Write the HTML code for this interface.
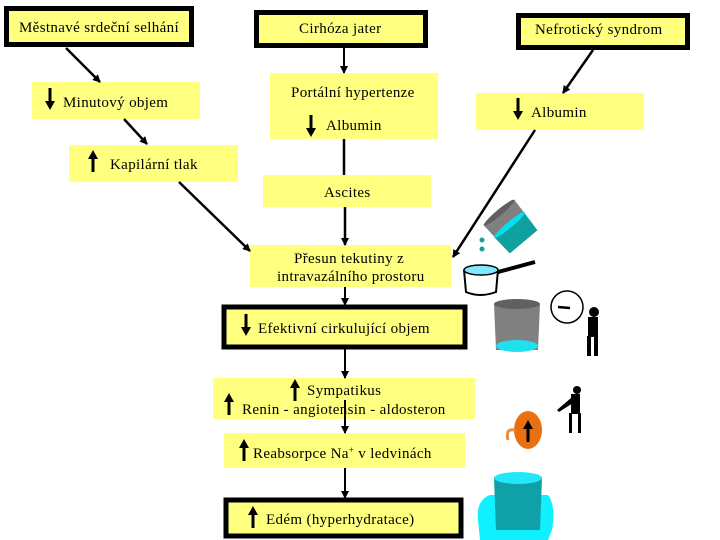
<!DOCTYPE html>
<html><head><meta charset="utf-8"><style>
html,body{margin:0;padding:0;background:#fff}
svg{display:block}
text{font-family:"Liberation Serif",serif;font-size:15px;letter-spacing:0.35px;fill:#000}
</style></head><body>
<svg width="720" height="540" viewBox="0 0 720 540" xmlns="http://www.w3.org/2000/svg">
<defs>
<marker id="ah" markerWidth="8" markerHeight="8" refX="7" refY="4" orient="auto" markerUnits="userSpaceOnUse"><path d="M0,0 L8,4 L0,8 z" fill="#000"/></marker>
<g id="up"><rect x="-1.5" y="4" width="3" height="16" fill="#000"/><path d="M-5,7 L0,-2 L5,7 z" fill="#000"/></g>
<g id="dn"><rect x="-1.5" y="-2" width="3" height="16" fill="#000"/><path d="M-5,11 L0,20 L5,11 z" fill="#000"/></g>
</defs>
<g fill="#ffff80">
<rect x="6.5" y="8.5" width="185" height="36" stroke="#000" stroke-width="5"/>
<rect x="256.5" y="12.5" width="169" height="33" stroke="#000" stroke-width="5"/>
<rect x="518.5" y="15.5" width="169" height="32" stroke="#000" stroke-width="5"/>
<rect x="32" y="82" width="168" height="37"/>
<rect x="270" y="73" width="168" height="66"/>
<rect x="476" y="93" width="168" height="37"/>
<rect x="69" y="145" width="169" height="37"/>
<rect x="263" y="175" width="168" height="32"/>
<rect x="250" y="245" width="201" height="42"/>
<rect x="224" y="307" width="241" height="40" stroke="#000" stroke-width="5"/>
<rect x="213" y="378" width="262" height="41"/>
<rect x="224" y="433" width="241" height="35"/>
<rect x="226" y="500" width="235" height="36" stroke="#000" stroke-width="5"/>
</g>
<g stroke="#000" stroke-width="2.5" fill="none">
<line x1="66" y1="48" x2="100" y2="82" marker-end="url(#ah)"/>
<line x1="124" y1="119" x2="147" y2="144" marker-end="url(#ah)"/>
<line x1="179" y1="182" x2="250" y2="251" marker-end="url(#ah)"/>
<line x1="344" y1="48" x2="344" y2="73" stroke-width="2" marker-end="url(#ah)"/>
<line x1="344" y1="139" x2="344" y2="175"/>
<line x1="345" y1="207" x2="345" y2="245" marker-end="url(#ah)"/>
<line x1="593" y1="50" x2="563" y2="93" marker-end="url(#ah)"/>
<line x1="535" y1="130" x2="453" y2="257" marker-end="url(#ah)"/>
<line x1="345" y1="287" x2="345" y2="305" stroke-width="2" marker-end="url(#ah)"/>
<line x1="345" y1="349" x2="345" y2="378" stroke-width="2" marker-end="url(#ah)"/>
<line x1="345" y1="400" x2="345" y2="433" stroke-width="2" marker-end="url(#ah)"/>
<line x1="345" y1="468" x2="345" y2="498" stroke-width="2" marker-end="url(#ah)"/>
</g>
<text x="19" y="32">Městnavé srdeční selhání</text>
<text x="299" y="33">Cirhóza jater</text>
<text x="535" y="34">Nefrotický syndrom</text>
<use href="#dn" x="50" y="90"/><text x="63" y="107">Minutový objem</text>
<text x="291" y="97">Portální hypertenze</text>
<use href="#dn" x="311" y="117"/><text x="326" y="130">Albumin</text>
<use href="#dn" x="518" y="100"/><text x="531" y="117">Albumin</text>
<use href="#up" x="93" y="152"/><text x="110" y="169">Kapilární tlak</text>
<text x="324" y="197">Ascites</text>
<text x="294" y="263">Přesun tekutiny z</text>
<text x="277" y="281">intravazálního prostoru</text>
<use href="#dn" x="246" y="316"/><text x="258" y="333">Efektivní cirkulující objem</text>
<use href="#up" x="295" y="381"/><text x="307" y="395">Sympatikus</text>
<use href="#up" x="229" y="395"/><text x="242" y="414">Renin - angiotensin - aldosteron</text>
<use href="#up" x="244" y="441"/><text x="253" y="458">Reabsorpce Na<tspan dy="-5" font-size="9">+</tspan><tspan dy="5"> v ledvinách</tspan></text>
<use href="#up" x="253" y="508"/><text x="266" y="524">Edém (hyperhydratace)</text>
<!-- pouring beaker -->
<g transform="translate(512,228) rotate(-40)">
<path d="M-20,-20 L20,-20 L18,18 L-18,18 z" fill="#808080"/>
<path d="M-19.5,-4 L19.2,-4 L18,18 L-18,18 z" fill="#10a0a0"/>
<ellipse cx="0" cy="-4" rx="20" ry="3" fill="#00e0f0"/>
<ellipse cx="0" cy="-20" rx="20" ry="3" fill="#606060"/>
</g>
<circle cx="482" cy="240" r="2.5" fill="#10a0a0"/><circle cx="482" cy="249" r="2.5" fill="#10a0a0"/>
<!-- saucepan -->
<path d="M464,270 L466,292 Q480,298 496,292 L498,270" fill="#fff" stroke="#000" stroke-width="2"/>
<ellipse cx="481" cy="270" rx="17" ry="5" fill="#80e8ff" stroke="#000" stroke-width="1.5"/>
<path d="M498,272 L535,262" stroke="#000" stroke-width="4"/>
<!-- beaker -->
<path d="M494,304 L540,304 L538,350 L496,350 z" fill="#808080"/>
<ellipse cx="517" cy="304" rx="23" ry="5" fill="#606060"/>
<ellipse cx="517" cy="346" rx="21" ry="6" fill="#20e0f0"/>
<!-- clock & man -->
<circle cx="567" cy="307" r="16" fill="#fff" stroke="#000" stroke-width="1.5"/>
<path d="M558,307 L570,308" stroke="#000" stroke-width="2.5"/>
<g fill="#000"><circle cx="594" cy="312" r="5"/><rect x="588" y="317" width="10" height="20"/><rect x="587" y="336" width="4" height="20"/><rect x="594" y="336" width="4" height="20"/></g>
<g fill="#000"><circle cx="577" cy="390" r="4"/><rect x="571" y="394" width="9" height="20"/><path d="M571,398 L557,410 L559,412 L573,403 z"/><rect x="569" y="413" width="3" height="20"/><rect x="578" y="413" width="3" height="20"/></g>
<!-- kidney -->
<ellipse cx="528" cy="430" rx="14" ry="19" fill="#e87010"/>
<path d="M515,430 Q505,428 508,440" stroke="#e89040" stroke-width="3" fill="none"/>
<use href="#up" x="528" y="422"/>
<!-- overflowing container -->
<path d="M478,520 Q476,500 490,495 L548,495 Q556,505 552,530 L548,540 L480,540 z" fill="#10f0ff"/>
<path d="M494,478 L542,478 L540,530 L496,530 z" fill="#10a0a8"/>
<ellipse cx="518" cy="478" rx="24" ry="6" fill="#20e8f8"/>
</svg>
</body></html>
